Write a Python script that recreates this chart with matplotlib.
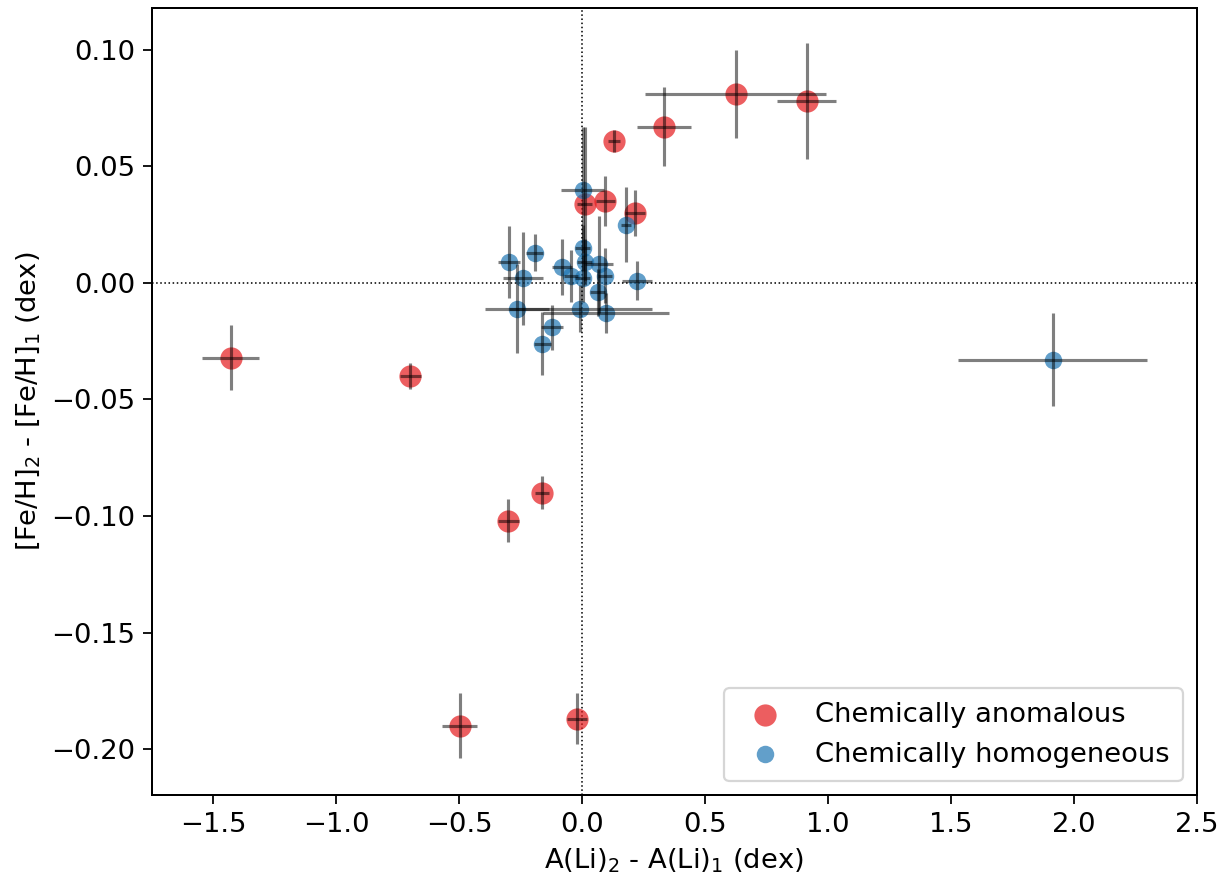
import numpy as np
import matplotlib
matplotlib.use("Agg")
import matplotlib.pyplot as plt

# chemically anomalous pairs
anom_dli = [-1.43, -0.70, -0.30, -0.164, -0.498, -0.022, 0.131, 0.333, 0.625, 0.913, 0.095, 0.01, 0.215]
anom_dli_err = [0.116, 0.043, 0.044, 0.029, 0.071, 0.04, 0.024, 0.11, 0.368, 0.12, 0.04, 0.03, 0.04]
anom_dfeh = [-0.032, -0.040, -0.102, -0.090, -0.190, -0.187, 0.061, 0.067, 0.081, 0.078, 0.035, 0.034, 0.030]
anom_dfeh_err = [0.014, 0.0056, 0.0092, 0.007, 0.014, 0.011, 0.0048, 0.017, 0.019, 0.025, 0.0107, 0.033, 0.0099]

# chemically homogeneous pairs
homo_dli = [0.003, 0.179, -0.299, -0.193, -0.241, -0.082, -0.045, 0.003, 0.01, 0.003,
            0.068, 0.093, 0.064, 0.222, -0.265, -0.007, 0.097, -0.122, -0.162, 1.914]
homo_dli_err = [0.088, 0.02, 0.045, 0.034, 0.08, 0.04, 0.03, 0.03, 0.03, 0.03,
                0.058, 0.03, 0.03, 0.061, 0.13, 0.29, 0.257, 0.044, 0.034, 0.386]
homo_dfeh = [0.040, 0.025, 0.009, 0.013, 0.002, 0.007, 0.003, 0.015, 0.009, 0.002,
             0.008, 0.003, -0.004, 0.001, -0.011, -0.011, -0.013, -0.019, -0.026, -0.033]
homo_dfeh_err = [0.027, 0.016, 0.0155, 0.0079, 0.02, 0.012, 0.011, 0.01, 0.01, 0.01,
                 0.0207, 0.0118, 0.01, 0.0082, 0.019, 0.01, 0.0086, 0.0097, 0.0136, 0.0199]

plt.rcParams["font.size"] = 12.3
plt.rcParams["axes.linewidth"] = 0.9
plt.rcParams["xtick.major.size"] = 4
plt.rcParams["ytick.major.size"] = 4

fig = plt.figure(figsize=(1226 / 160, 877 / 160), dpi=160)
ax = fig.add_axes([0.124, 0.0935, 0.852, 0.8975])

ax.axvline(0, color="k", ls=":", lw=0.7, zorder=0)
ax.axhline(0, color="k", ls=":", lw=0.7, zorder=0)

ax.scatter(anom_dli, anom_dfeh, s=100, color="#e41a1c", alpha=0.7, lw=0,
           label="Chemically anomalous", zorder=2)
ax.scatter(homo_dli, homo_dfeh, s=62, color="#1f77b4", alpha=0.7, lw=0,
           label="Chemically homogeneous", zorder=2)

ax.errorbar(anom_dli, anom_dfeh, xerr=anom_dli_err, yerr=anom_dfeh_err,
            fmt="none", ecolor="k", alpha=0.5, elinewidth=1.4, zorder=3)
ax.errorbar(homo_dli, homo_dfeh, xerr=homo_dli_err, yerr=homo_dfeh_err,
            fmt="none", ecolor="k", alpha=0.5, elinewidth=1.4, zorder=3)

ax.set_xlim(-1.75, 2.5)
ax.set_ylim(-0.2197, 0.118)
ax.set_xticks(np.arange(-1.5, 2.51, 0.5))
ax.set_yticks(np.arange(-0.20, 0.101, 0.05))
ax.set_xlabel("A(Li)$_2$ - A(Li)$_1$ (dex)")
ax.set_ylabel("[Fe/H]$_2$ - [Fe/H]$_1$ (dex)")

ax.legend(loc="lower right", borderpad=0.5)

fig.savefig("out.png", dpi=160)
